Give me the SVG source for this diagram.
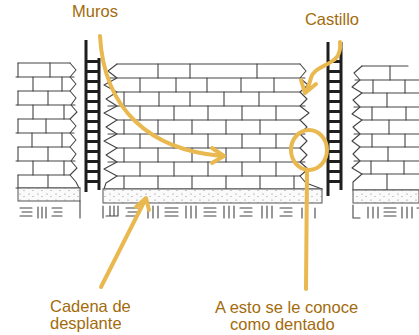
<svg xmlns="http://www.w3.org/2000/svg" width="419" height="335" viewBox="0 0 419 335">
  <defs>
    <style>
      .ink { fill: none; stroke: #444; stroke-width: 1.1; stroke-linecap: round; stroke-linejoin: round; }
      .post { fill: none; stroke: #1e1e1e; stroke-width: 3; }
      .sand { fill: #fafafa; stroke: #555; stroke-width: 1; }
      .dot { fill: #777; }
      .lead { fill: none; stroke: #E9B84E; stroke-width: 4; stroke-linecap: round; stroke-linejoin: round; }
      .label { font-family: "Liberation Sans", Arial, sans-serif; font-size: 16.5px; fill: #A36B0C; }
    </style>
    <pattern id="grain" width="9" height="6" patternUnits="userSpaceOnUse">
      <circle class="dot" cx="2" cy="2" r="0.6"/>
      <circle class="dot" cx="6" cy="4.5" r="0.5"/>
    </pattern>
    <!-- ladder rungs of a castillo -->
    <pattern id="rungs" width="14" height="10" patternUnits="userSpaceOnUse">
      <rect x="0" y="0" width="14" height="3" fill="#1e1e1e"/>
    </pattern>
  </defs>

  <rect width="419" height="335" fill="#ffffff"/>

  <!-- left wall -->
  <g id="muro-izquierdo" class="ink">
    <path d="M18 63 H70 M16 77 H74 M18 91 H70 M16 105 H75 M18 119 H70 M16 133 H74 M18 147 H70 M16 161 H75 M18 175 H70 M16 188 H80"/>
    <path d="M18 63 V77 M50 63 V77 M33 77 V91 M62 77 V91 M18 91 V105 M48 91 V105 M33 105 V119 M64 105 V119 M18 119 V133 M46 119 V133 M32 133 V147 M62 133 V147 M18 147 V161 M48 147 V161 M33 161 V175 M64 161 V175 M18 175 V188 M48 175 V188"/>
    <polyline points="70,63 76,70 70,77 76,84 70,91 76,98 71,105 77,112 70,119 76,126 70,133 76,140 70,147 76,154 71,161 77,168 70,175 76,182 79,188"/>
  </g>

  <!-- right wall -->
  <g id="muro-derecho" class="ink">
    <path d="M362 66 H408 M355 80 H419 M362 93 H419 M354 107 H419 M362 120 H419 M354 134 H419 M360 147 H419 M354 161 H419 M362 174 H419 M353 190 H419"/>
    <path d="M390 66 V80 M373 80 V93 M405 80 V93 M387 93 V107 M372 107 V120 M406 107 V120 M389 120 V134 M372 134 V147 M405 134 V147 M388 147 V161 M371 161 V174 M404 161 V174 M387 174 V190"/>
    <polyline points="362,66 354,73 360,80 352,87 362,93 353,100 360,107 352,114 362,120 353,127 360,134 352,141 360,147 353,154 360,161 352,168 362,174 353,182 353,190"/>
  </g>

  <!-- central wall -->
  <g id="muro-central" class="ink">
    <path d="M117 64 H300 M108 78 H305 M117 92 H300 M108 106 H305 M117 120 H300 M108 134 H305 M117 148 H300 M108 162 H305 M117 176 H300 M104 189 H322"/>
    <path d="M158 64 V78 M190 64 V78 M257 64 V78 M140 78 V92 M176 78 V92 M207 78 V92 M241 78 V92 M274 78 V92 M124 92 V106 M159 92 V106 M190 92 V106 M224 92 V106 M259 92 V106 M140 106 V120 M174 106 V120 M208 106 V120 M242 106 V120 M276 106 V120 M124 120 V134 M158 120 V134 M192 120 V134 M226 120 V134 M260 120 V134 M140 134 V148 M174 134 V148 M208 134 V148 M242 134 V148 M276 134 V148 M124 148 V162 M158 148 V162 M192 148 V162 M226 148 V162 M260 148 V162 M140 162 V176 M174 162 V176 M208 162 V176 M242 162 V176 M276 162 V176 M124 176 V189 M158 176 V189 M192 176 V189 M226 176 V189 M260 176 V189 M294 176 V189"/>
    <polyline points="117,64 108,71 117,78 104,85 117,92 106,99 117,106 104,113 117,120 106,127 117,134 104,141 117,148 106,155 117,162 104,169 117,176 106,183 104,189"/>
    <polyline points="300,64 306,71 300,78 308,85 300,92 307,99 300,106 309,113 300,120 307,127 300,134 307,141 300,148 307,155 300,162 308,169 300,176 306,183 322,189"/>
  </g>

  <!-- castillo left -->
  <g id="castillo-izquierdo">
    <rect x="86" y="60" width="13" height="130" fill="url(#rungs)"/>
    <path class="post" d="M86 40 V192 M99 58 V190"/>
  </g>

  <!-- castillo right -->
  <g id="castillo-derecho">
    <rect x="328" y="58" width="13" height="130" fill="url(#rungs)"/>
    <path class="post" d="M328 42 V196 M341 42 V190"/>
  </g>

  <!-- cadena de desplante -->
  <g id="cadena">
    <rect class="sand" x="18" y="188" width="62" height="13"/>
    <rect x="18" y="188" width="62" height="13" fill="url(#grain)"/>
    <rect class="sand" x="103" y="189" width="219" height="14"/>
    <rect x="103" y="189" width="219" height="14" fill="url(#grain)"/>
    <rect class="sand" x="353" y="190" width="66" height="13"/>
    <rect x="353" y="190" width="66" height="13" fill="url(#grain)"/>
  </g>

  <!-- ground hatching -->
  <g id="terreno" class="ink">
    <path d="M20 208 H32 M22 212 H32 M20 216 H32 M38 207 V218 M42 207 V218 M46 207 V218 M52 208 H62 M54 212 H62 M52 216 H62 M80 201 V218"/>
    <path d="M103 206 V218 M106 216 H118 M110 206 V216 M114 206 V216 M118 206 V216 M126 208 H138 M128 212 H138 M126 216 H138 M148 206 V218 M153 206 V218 M158 206 V218 M165 208 H178 M165 212 H178 M165 216 H178 M186 206 V218 M191 206 V218 M196 206 V218 M204 208 H216 M204 212 H216 M204 216 H216 M224 206 V218 M229 206 V218 M234 206 V218 M240 208 H252 M244 212 H252 M240 216 H252 M262 206 V218 M267 206 V218 M272 206 V218 M280 208 H292 M284 212 H292 M280 216 H292 M302 208 V218 M315 208 V218"/>
    <path d="M353 205 V218 H360 M368 207 V218 M373 207 V218 M378 207 V218 M384 208 H396 M384 212 H396 M384 216 H396 M402 207 V218 M407 207 V218 M412 207 V218 M417 208 H419"/>
  </g>

  <!-- callouts -->
  <g id="conectores" class="lead">
    <path d="M100 36 C104 110 150 150 222 156"/>
    <path d="M212 148 L224 156 L212 163"/>
    <path d="M340 42 C342 60 330 62 320 68 C308 74 312 82 306 92"/>
    <path d="M301 80 L305 93 L316 84"/>
    <path d="M101 287 L145 200"/>
    <path d="M136 207 L146 198 L149 210"/>
    <ellipse cx="309" cy="150" rx="18" ry="20"/>
    <path d="M307 170 L306 289"/>
  </g>

  <!-- labels -->
  <g id="etiquetas" class="label">
    <text x="95" y="17" text-anchor="middle">Muros</text>
    <text x="332" y="25" text-anchor="middle">Castillo</text>
    <text x="50" y="312">Cadena de</text>
    <text x="50" y="329">desplante</text>
    <text x="215" y="313">A esto se le conoce</text>
    <text x="230" y="330">como dentado</text>
  </g>
</svg>
